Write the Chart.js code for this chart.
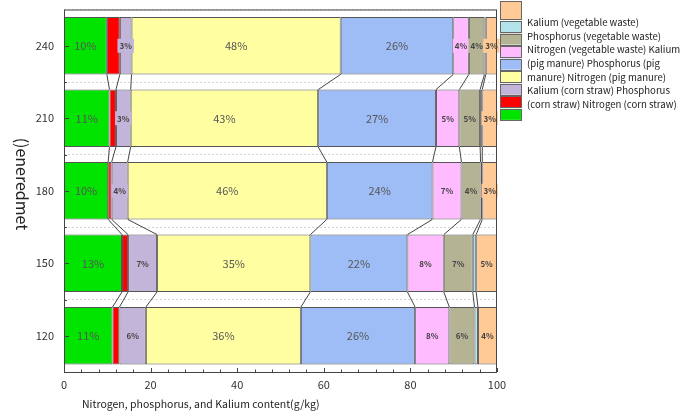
<!DOCTYPE html>
<html>
<head>
<meta charset="utf-8">
<script src="https://cdn.jsdelivr.net/npm/chart.js@4/dist/chart.umd.min.js"></script>
<style>
  html, body { margin: 0; padding: 0; background: #fff; }
  #wrap { width: 680px; height: 412px; position: relative; }
</style>
</head>
<body>
<div id="wrap"><canvas id="c" width="680" height="412"></canvas></div>
<script>
// categories, top to bottom
const temps = ["240", "210", "180", "150", "120"];

// series, left to right in each bar
const nCornStraw = [9.9, 10.5, 10.2, 13.4, 11.2];
const pCornStraw = [3.0, 1.5, 0.8, 1.4, 1.6];
const kCornStraw = [2.7, 3.4, 3.7, 6.7, 6.1];
const nPigManure = [48.3, 43.3, 46.0, 35.4, 35.8];
const pPigManure = [26.0, 27.2, 24.4, 22.4, 26.4];
const kPigManure = [3.6, 5.4, 6.7, 8.4, 7.9];
const nVegWaste  = [3.6, 4.8, 4.4, 6.7, 5.8];
const pVegWaste  = [0.3, 0.5, 0.4, 0.8, 0.8];
const kVegWaste  = [2.6, 3.4, 3.4, 4.8, 4.4];

const xTicks = [0, 20, 40, 60, 80, 100];

// legend text as it is laid out (wrapped), top to bottom
const legendLines = [
    "Kalium (vegetable waste)",
    "Phosphorus (vegetable waste)",
    "Nitrogen (vegetable waste) Kalium",
    "(pig manure) Phosphorus (pig",
    "manure) Nitrogen (pig manure)",
    "Kalium (corn straw) Phosphorus",
    "(corn straw) Nitrogen (corn straw)",
];

const series = [
    { label: "Nitrogen (corn straw)",       data: nCornStraw, color: "#00e400", tag: true  },
    { label: "Phosphorus (corn straw)",     data: pCornStraw, color: "#ff0000", tag: false },
    { label: "Kalium (corn straw)",         data: kCornStraw, color: "#c3b5d9", tag: true  },
    { label: "Nitrogen (pig manure)",       data: nPigManure, color: "#ffffa2", tag: true  },
    { label: "Phosphorus (pig manure)",     data: pPigManure, color: "#9ebcf5", tag: true  },
    { label: "Kalium (pig manure)",         data: kPigManure, color: "#ffbbff", tag: true  },
    { label: "Nitrogen (vegetable waste)",  data: nVegWaste,  color: "#b4b495", tag: true  },
    { label: "Phosphorus (vegetable waste)",data: pVegWaste,  color: "#b2e2ea", tag: false },
    { label: "Kalium (vegetable waste)",    data: kVegWaste,  color: "#ffca96", tag: true  },
];

const FONT = "'Noto Sans CJK SC', 'Noto Sans', sans-serif";

// connectors between neighbouring bars, percentage tags, frame, ticks, legend
const decor = {
    id: "decor",
    afterDatasetsDraw(chart) {
        const ctx = chart.ctx;
        const metas = series.map((s, i) => chart.getDatasetMeta(i));

        // connector lines
        ctx.save();
        ctx.strokeStyle = "#444";
        ctx.lineWidth = 1;
        for (let i = 0; i < temps.length - 1; i++) {
            for (let k = 0; k < series.length - 1; k++) {
                const a = metas[k].data[i].getProps(["x", "y", "height"], true);
                const b = metas[k].data[i + 1].getProps(["x", "y", "height"], true);
                ctx.beginPath();
                ctx.moveTo(a.x, a.y + a.height / 2);
                ctx.lineTo(b.x, b.y - b.height / 2);
                ctx.stroke();
            }
        }
        ctx.restore();

        // percentage tags
        ctx.save();
        ctx.textAlign = "center";
        ctx.textBaseline = "middle";
        series.forEach((s, d) => {
            if (!s.tag) return;
            metas[d].data.forEach((el, i) => {
                const p = el.getProps(["x", "y", "base"], true);
                const v = s.data[i];
                const txt = Math.round(v + 1e-9) + "%";
                const big = v >= 9;
                ctx.font = big ? "11px " + FONT : "bold 8px " + FONT;
                const cx = (p.x + p.base) / 2;
                if (!big) {
                    const w = ctx.measureText(txt).width + 4;
                    ctx.fillStyle = s.color;
                    ctx.fillRect(cx - w / 2, p.y - 7, w, 14);
                }
                ctx.fillStyle = big ? "#555" : "#444";
                ctx.fillText(txt, cx, p.y + 0.5);
            });
        });
        ctx.restore();
    },
    afterDraw(chart) {
        const ctx = chart.ctx;
        const area = chart.chartArea;
        const xs = chart.scales.x, ys = chart.scales.y;

        ctx.save();
        ctx.strokeStyle = "#444";
        ctx.lineWidth = 1;
        ctx.strokeRect(area.left + 0.5, area.top + 0.5, area.right - area.left - 1, area.bottom - area.top);

        // x ticks, pointing inward
        ctx.beginPath();
        for (let v = 0; v <= 100; v += 4) {
            const px = Math.round(xs.getPixelForValue(v)) + 0.5;
            const len = v % 20 === 0 ? 4 : 2.5;
            ctx.moveTo(px, area.bottom);
            ctx.lineTo(px, area.bottom - len);
        }
        // y ticks: major at bars, minor between
        const step = (area.bottom - area.top) / temps.length;
        temps.forEach((t, i) => {
            const py = Math.round(ys.getPixelForValue(i)) + 0.5;
            ctx.moveTo(area.left, py);
            ctx.lineTo(area.left + 5, py);
            if (i > 0) {
                const my = Math.round(area.top + step * i) + 0.5;
                ctx.moveTo(area.left, my);
                ctx.lineTo(area.left + 3, my);
            }
        });
        ctx.stroke();

        // axis titles
        ctx.fillStyle = "#222";
        ctx.font = "10.5px " + FONT;
        ctx.textAlign = "left";
        ctx.textBaseline = "middle";
        ctx.fillText("Nitrogen, phosphorus, and Kalium content(g/kg)", 82, 404);

        ctx.save();
        ctx.translate(22, 184);
        ctx.rotate(Math.PI / 2);
        ctx.font = "16px " + FONT;
        ctx.textAlign = "center";
        ctx.fillText("()eneredmet", 0, 0);
        ctx.restore();

        // legend swatches, reversed series order
        const legendOrder = series.slice().reverse();
        legendOrder.forEach((s, i) => {
            let y, h;
            if (i === 0) { y = 1; h = 18; } else { y = 21 + (i - 1) * 12.55; h = 11; }
            ctx.fillStyle = s.color;
            ctx.fillRect(500, y, 21, h);
            ctx.strokeStyle = "#666";
            ctx.strokeRect(500.5, Math.round(y) + 0.5, 21, Math.round(h));
        });
        ctx.fillStyle = "#222";
        ctx.font = "9.6px " + FONT;
        ctx.textAlign = "left";
        legendLines.forEach((line, i) => {
            ctx.fillText(line, 527, 22.5 + i * 13.6);
        });
        ctx.restore();
    }
};

new Chart(document.getElementById("c"), {
    type: "bar",
    data: {
        labels: temps,
        datasets: series.map(s => ({
            label: s.label,
            data: s.data,
            backgroundColor: s.color,
            borderColor: "#555",
            borderWidth: 1,
            borderSkipped: false,
            categoryPercentage: 1,
            barPercentage: 0.79,
        })),
    },
    options: {
        indexAxis: "y",
        responsive: false,
        animation: false,
        layout: { padding: { top: 9.5, right: 183, bottom: 0, left: 0 } },
        plugins: {
            legend: { display: false },
            tooltip: { enabled: false },
        },
        scales: {
            x: {
                stacked: true,
                min: 0,
                max: 100,
                afterFit: s => { s.height = 40; s.paddingLeft = 0; s.paddingRight = 0; },
                afterBuildTicks: s => { s.ticks = xTicks.map(v => ({ value: v })); },
                ticks: {
                    color: "#333",
                    font: { family: FONT, size: 11 },
                    padding: 6,
                },
                grid: { display: false, drawTicks: false },
                border: { display: false },
            },
            y: {
                stacked: true,
                afterFit: s => { s.width = 64; s.paddingTop = 0; s.paddingBottom = 0; },
                ticks: {
                    color: "#333",
                    font: { family: FONT, size: 11 },
                    padding: 10,
                },
                grid: { color: "#d4d4d4", drawTicks: false, offset: true },
                border: { display: false, dash: [2, 2] },
            },
        },
    },
    plugins: [decor],
});
</script>
</body>
</html>
